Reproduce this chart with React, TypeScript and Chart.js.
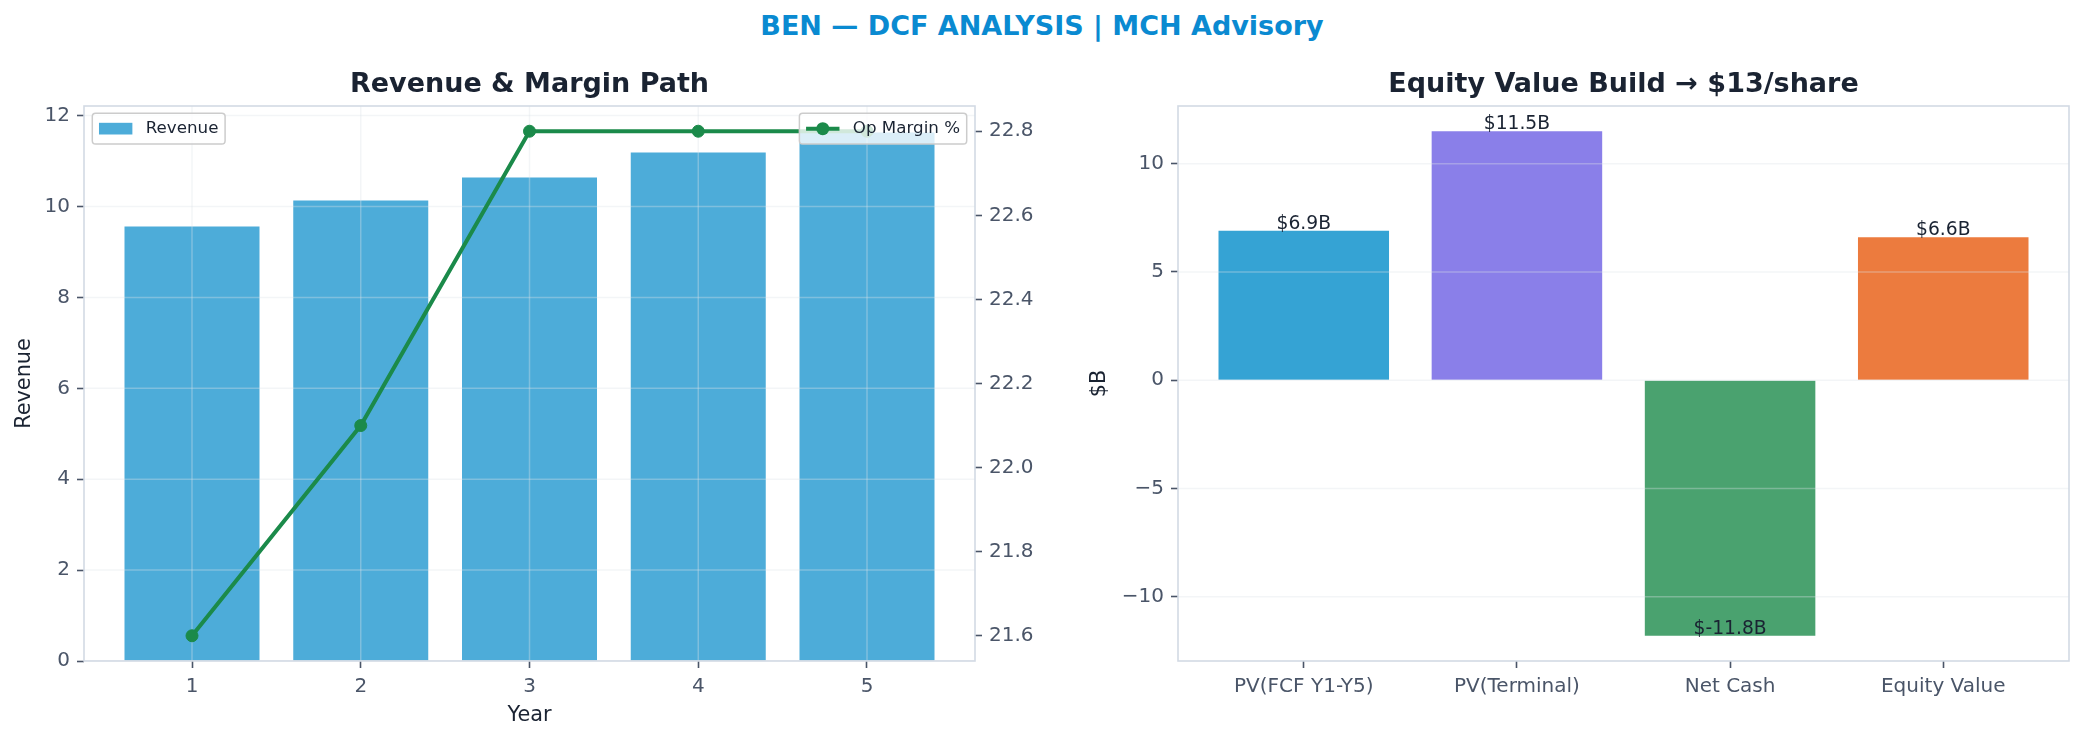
import { useEffect, useRef } from 'react';
import { Chart, registerables } from 'chart.js';

Chart.register(...registerables);

// left panel: revenue bars + op margin line
const years = [1, 2, 3, 4, 5];
const revenue = [9.56, 10.13, 10.64, 11.19, 11.63];
const opMargin = [21.6, 22.1, 22.8, 22.8, 22.8];
const revenueTicks = [0, 2, 4, 6, 8, 10, 12];
const marginTicks = [21.6, 21.8, 22.0, 22.2, 22.4, 22.6, 22.8];

// right panel: equity bridge
const bridgeLabels = ['PV(FCF Y1-Y5)', 'PV(Terminal)', 'Net Cash', 'Equity Value'];
const bridgeValues = [6.9, 11.5, -11.8, 6.6];
const bridgeColors = ['#35a3d4', '#8a7fe9', '#4aa26f', '#ec7b3e'];
const bridgeTicks = [-10, -5, 0, 5, 10];

const FONT = "'DejaVu Sans', sans-serif";
const DARK = '#1a2332';
const TICK = '#4a5568';
const SPINE = '#d3dae4';
const GRID = 'rgba(222, 226, 232, 0.35)';
const BAR = '#4dacd9';
const LINE = '#1b8a4a';

// matplotlib-like auto margins (5% of span)
const pad = (lo: number, hi: number) => [lo - (hi - lo) * 0.05, hi + (hi - lo) * 0.05];

const tickStyle = { font: { family: FONT, size: 20 }, color: TICK, padding: 7 };
const tickGrid = {
  display: true,
  drawOnChartArea: false,
  drawTicks: true,
  tickLength: 7,
  tickColor: TICK,
  tickWidth: 1.6,
  offset: false,
  color: 'transparent',
};

function gridOver(afterIndex: number, withX: boolean) {
  return {
    id: 'gridOver',
    afterDatasetDraw(chart: any, args: any) {
      if (args.index !== afterIndex) return;
      const { ctx, chartArea: a, scales } = chart;
      ctx.save();
      ctx.beginPath();
      ctx.rect(a.left, a.top, a.right - a.left, a.bottom - a.top);
      ctx.clip();
      ctx.strokeStyle = GRID;
      ctx.lineWidth = 1.5;
      scales.y.ticks.forEach((t: any) => {
        const y = scales.y.getPixelForValue(t.value);
        ctx.beginPath();
        ctx.moveTo(a.left, y);
        ctx.lineTo(a.right, y);
        ctx.stroke();
      });
      if (withX) {
        scales.x.ticks.forEach((t: any) => {
          const x = scales.x.getPixelForValue(t.value);
          ctx.beginPath();
          ctx.moveTo(x, a.top);
          ctx.lineTo(x, a.bottom);
          ctx.stroke();
        });
      }
      ctx.restore();
    },
  };
}

function frameAndText(title: string, yLabel: string, xLabel: string, y2Label: string) {
  return {
    id: 'frameAndText',
    afterDatasetsDraw(chart: any) {
      const { ctx, chartArea: a } = chart;
      ctx.save();
      ctx.strokeStyle = SPINE;
      ctx.lineWidth = 1.6;
      ctx.strokeRect(a.left, a.top, a.right - a.left, a.bottom - a.top);
      ctx.restore();
    },
    afterDraw(chart: any) {
      const { ctx, chartArea: a } = chart;
      const cx = (a.left + a.right) / 2;
      const cy = (a.top + a.bottom) / 2;
      ctx.save();
      ctx.fillStyle = DARK;
      ctx.textAlign = 'center';
      ctx.textBaseline = 'alphabetic';
      ctx.font = `bold 27px ${FONT}`;
      ctx.fillText(title, cx, a.top - 14);

      ctx.font = `20.8px ${FONT}`;
      ctx.textBaseline = 'middle';
      if (xLabel) ctx.fillText(xLabel, cx, a.bottom + 55);
      const rot = (text: string, x: number) => {
        ctx.save();
        ctx.translate(x, cy);
        ctx.rotate(-Math.PI / 2);
        ctx.fillText(text, 0, 0);
        ctx.restore();
      };
      if (yLabel) rot(yLabel, a.left - (yLabel === '$B' ? 78 : 59));
      if (y2Label) rot(y2Label, a.right + 79);
      ctx.restore();
    },
  };
}

function legendBox(ctx: any, x: number, y: number, w: number, h: number) {
  ctx.beginPath();
  ctx.roundRect(x, y, w, h, 3.3);
  ctx.fillStyle = 'rgba(255,255,255,0.8)';
  ctx.fill();
  ctx.strokeStyle = '#cccccc';
  ctx.lineWidth = 1.5;
  ctx.stroke();
}

const legends = {
  id: 'legends',
  afterDraw(chart: any) {
    const { ctx, chartArea: a } = chart;
    const fs = 16.7;
    const bp = 0.4 * fs;
    const hl = 2 * fs;
    const gap = 0.8 * fs;
    const h = 30.7;
    const top = a.top + 7.3;
    const mid = top + h / 2;
    ctx.save();
    ctx.font = `${fs}px ${FONT}`;
    ctx.textBaseline = 'middle';
    ctx.textAlign = 'left';

    const t1 = chart.data.datasets[0].label;
    const w1 = bp * 2 + hl + gap + ctx.measureText(t1).width;
    const l1 = a.left + 8.3;
    legendBox(ctx, l1, top, w1, h);
    ctx.fillStyle = BAR;
    ctx.fillRect(l1 + bp, mid - 0.35 * fs, hl, 0.7 * fs);
    ctx.fillStyle = DARK;
    ctx.fillText(t1, l1 + bp + hl + gap, mid);

    const t2 = chart.data.datasets[1].label;
    const w2 = bp * 2 + hl + gap + ctx.measureText(t2).width;
    const l2 = a.right - 8.3 - w2;
    legendBox(ctx, l2, top, w2, h);
    ctx.strokeStyle = LINE;
    ctx.lineWidth = 4;
    ctx.beginPath();
    ctx.moveTo(l2 + bp, mid);
    ctx.lineTo(l2 + bp + hl, mid);
    ctx.stroke();
    ctx.fillStyle = LINE;
    ctx.beginPath();
    ctx.arc(l2 + bp + hl / 2, mid, 6.5, 0, Math.PI * 2);
    ctx.fill();
    ctx.fillStyle = DARK;
    ctx.fillText(t2, l2 + bp + hl + gap, mid);
    ctx.restore();
  },
};

const valueLabels = {
  id: 'valueLabels',
  afterDatasetsDraw(chart: any) {
    const { ctx } = chart;
    const meta = chart.getDatasetMeta(0);
    ctx.save();
    ctx.font = `18.7px ${FONT}`;
    ctx.fillStyle = DARK;
    ctx.textAlign = 'center';
    ctx.textBaseline = 'alphabetic';
    meta.data.forEach((el: any, i: number) => {
      ctx.fillText(`$${bridgeValues[i].toFixed(1)}B`, el.x, el.y - 2);
    });
    ctx.restore();
  },
};

export default function App() {
  const leftRef = useRef<HTMLCanvasElement>(null);
  const rightRef = useRef<HTMLCanvasElement>(null);

  useEffect(() => {
    document.body.style.margin = '0';

    const [x1min, x1max] = pad(years[0] - 0.4, years[years.length - 1] + 0.4);
    const [m1min, m1max] = pad(Math.min(...opMargin), Math.max(...opMargin));
    const revMax = Math.max(...revenue) * 1.05;

    const left = new Chart(leftRef.current!, {
      type: 'bar',
      data: {
        datasets: [
          {
            type: 'bar',
            label: 'Revenue',
            data: years.map((x, i) => ({ x, y: revenue[i] })),
            backgroundColor: BAR,
            yAxisID: 'y',
            order: 1,
            categoryPercentage: 1,
            barPercentage: 0.8,
          },
          {
            type: 'line',
            label: 'Op Margin %',
            data: years.map((x, i) => ({ x, y: opMargin[i] })),
            borderColor: LINE,
            backgroundColor: LINE,
            borderWidth: 4,
            pointRadius: 6,
            pointBorderWidth: 1,
            pointBackgroundColor: LINE,
            pointBorderColor: LINE,
            yAxisID: 'y2',
            order: 0,
          },
        ],
      } as any,
      options: {
        animation: false,
        responsive: false,
        devicePixelRatio: 1,
        layout: { padding: { top: 106, left: 0, right: 0, bottom: 0 } },
        plugins: { legend: { display: false }, tooltip: { enabled: false } },
        scales: {
          x: {
            type: 'linear',
            min: x1min,
            max: x1max,
            offset: false,
            afterBuildTicks: (s: any) => { s.ticks = years.map((v) => ({ value: v })); },
            afterFit: (s: any) => { s.height = 81; },
            ticks: { ...tickStyle, maxRotation: 0, autoSkip: false, callback: (v: any) => String(v) },
            grid: tickGrid,
            border: { display: false },
          },
          y: {
            type: 'linear',
            position: 'left',
            min: 0,
            max: revMax,
            afterBuildTicks: (s: any) => { s.ticks = revenueTicks.map((v) => ({ value: v })); },
            afterFit: (s: any) => { s.width = 84; },
            ticks: { ...tickStyle, callback: (v: any) => String(v) },
            grid: tickGrid,
            border: { display: false },
          },
          y2: {
            type: 'linear',
            position: 'right',
            min: m1min,
            max: m1max,
            afterBuildTicks: (s: any) => { s.ticks = marginTicks.map((v) => ({ value: v })); },
            afterFit: (s: any) => { s.width = 67; },
            ticks: { ...tickStyle, callback: (v: any) => Number(v).toFixed(1) },
            grid: tickGrid,
            border: { display: false },
          },
        },
      } as any,
      plugins: [gridOver(0, true), frameAndText('Revenue & Margin Path', 'Revenue', 'Year', 'Op Margin (%)'), legends],
    });

    const idx = bridgeLabels.map((_, i) => i);
    const [x2min, x2max] = pad(-0.4, idx.length - 1 + 0.4);
    const [y2min, y2max] = pad(Math.min(...bridgeValues), Math.max(...bridgeValues));

    const right = new Chart(rightRef.current!, {
      type: 'bar',
      data: {
        datasets: [
          {
            label: '$B',
            data: idx.map((x) => ({ x, y: bridgeValues[x] })),
            backgroundColor: bridgeColors,
            categoryPercentage: 1,
            barPercentage: 0.8,
          },
        ],
      } as any,
      options: {
        animation: false,
        responsive: false,
        devicePixelRatio: 1,
        layout: { padding: { top: 106, left: 0, right: 15, bottom: 0 } },
        plugins: { legend: { display: false }, tooltip: { enabled: false } },
        scales: {
          x: {
            type: 'linear',
            min: x2min,
            max: x2max,
            offset: false,
            afterBuildTicks: (s: any) => { s.ticks = idx.map((v) => ({ value: v })); },
            afterFit: (s: any) => { s.height = 81; },
            ticks: { ...tickStyle, maxRotation: 0, autoSkip: false, callback: (v: any) => bridgeLabels[Math.round(v)] ?? '' },
            grid: tickGrid,
            border: { display: false },
          },
          y: {
            type: 'linear',
            min: y2min,
            max: y2max,
            afterBuildTicks: (s: any) => { s.ticks = bridgeTicks.map((v) => ({ value: v })); },
            afterFit: (s: any) => { s.width = 136; },
            ticks: { ...tickStyle, callback: (v: any) => (v < 0 ? '\u2212' + Math.abs(v) : String(v)) },
            grid: tickGrid,
            border: { display: false },
          },
        },
      } as any,
      plugins: [gridOver(0, false), frameAndText('Equity Value Build \u2192 $13/share', '$B', '', ''), valueLabels],
    });

    return () => {
      left.destroy();
      right.destroy();
    };
  }, []);

  return (
    <div style={{ position: 'relative', width: 2084, height: 742, background: '#fff' }}>
      <div
        style={{
          position: 'absolute',
          left: 0,
          top: 12,
          width: 2084,
          textAlign: 'center',
          font: `bold 27px ${FONT}`,
          lineHeight: '27px',
          color: '#0a8ad1',
        }}
      >
        BEN — DCF ANALYSIS | MCH Advisory
      </div>
      <canvas ref={leftRef} width={1042} height={742} style={{ position: 'absolute', left: 0, top: 0 }} />
      <canvas ref={rightRef} width={1042} height={742} style={{ position: 'absolute', left: 1042, top: 0 }} />
    </div>
  );
}
